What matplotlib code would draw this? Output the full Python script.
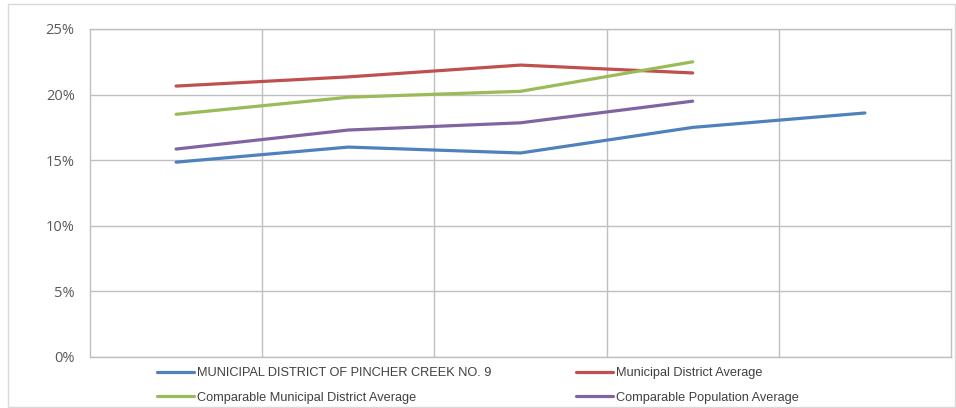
import matplotlib
matplotlib.use("Agg")
import matplotlib.pyplot as plt
from matplotlib.patches import Rectangle
from matplotlib.ticker import FuncFormatter, MultipleLocator

categories = ["1", "2", "3", "4", "5"]
pincher = [14.85, 16.0, 15.55, 17.5, 18.6]
md_avg = [20.65, 21.35, 22.25, 21.65]
comp_md_avg = [18.5, 19.8, 20.25, 22.5]
comp_pop_avg = [15.85, 17.3, 17.85, 19.5]

labels = ["MUNICIPAL DISTRICT OF PINCHER CREEK NO. 9",
          "Municipal District Average",
          "Comparable Municipal District Average",
          "Comparable Population Average"]
colors = ["#4F81BD", "#C0504D", "#9BBB59", "#8064A2"]

FONT = ["Liberation Sans", "DejaVu Sans"]
plt.rcParams["font.family"] = FONT

W, H = 956, 408
fig = plt.figure(figsize=(W / 100, H / 100), dpi=100)
ax = fig.add_axes([90 / W, 1 - 357 / H, (951 - 90) / W, (357 - 29) / H])

x = list(range(len(categories)))
series = [pincher, md_avg, comp_md_avg, comp_pop_avg]
lines = []
for s, c, lab in zip(series, colors, labels):
    ln, = ax.plot(x[:len(s)], s, color=c, lw=2.3, label=lab, solid_capstyle="round")
    lines.append(ln)

ax.set_xlim(-0.5, len(categories) - 0.5)
ax.set_ylim(0, 25)
ax.yaxis.set_major_locator(MultipleLocator(5))
ax.yaxis.set_major_formatter(FuncFormatter(lambda v, p: f"{v:.0f}%"))
ax.set_xticks([i + 0.5 for i in range(len(categories) - 1)])
ax.set_xticklabels([])
ax.tick_params(axis="both", length=0, labelsize=10.5, labelcolor="#595959", pad=14)
ax.tick_params(axis="y", pad=11)
ax.grid(True, color="#BFBFBF", lw=1)
ax.set_axisbelow(True)
for sp in ax.spines.values():
    sp.set_color("#BFBFBF")
    sp.set_linewidth(1)
for lbl in ax.get_yticklabels():
    lbl.set_family(["Open Sans", "DejaVu Sans"])

fig.patches.append(Rectangle((8 / W, 1 / H), (W - 9) / W, (H - 5) / H,
                             transform=fig.transFigure, fill=False,
                             edgecolor="#D9D9D9", lw=1))

common = dict(frameon=False, fontsize=9.2, handlelength=2.9, handletextpad=0.2,
              labelspacing=0.98, borderaxespad=0, borderpad=0)
leg1 = fig.legend([lines[0], lines[2]], [labels[0], labels[2]],
                  loc="upper left", bbox_to_anchor=(157 / W, 1 - 367 / H), **common)
leg2 = fig.legend([lines[1], lines[3]], [labels[1], labels[3]],
                  loc="upper left", bbox_to_anchor=(576 / W, 1 - 367 / H), **common)
for leg in (leg1, leg2):
    for t in leg.get_texts():
        t.set_color("#404040")

fig.savefig("out.png", dpi=100)
